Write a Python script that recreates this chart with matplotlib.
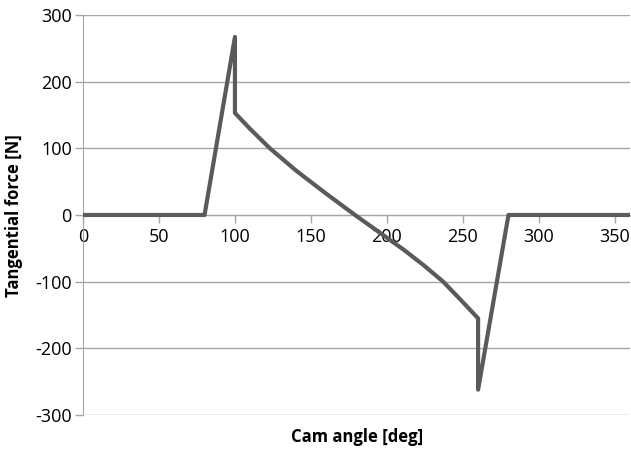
import matplotlib.pyplot as plt

# cam angle [deg] and tangential force [N]
angle = [0, 80, 100, 100, 110, 123, 140, 160, 179, 195, 211, 224, 237, 248,
         260, 260, 280, 360]
force = [0, 0, 267, 153, 129, 100, 67, 32, 0, -26, -52, -75, -100, -126,
         -155, -262, 0, 0]

xticks = [0, 50, 100, 150, 200, 250, 300, 350]
yticks = [-300, -200, -100, 0, 100, 200, 300]

plt.rcParams['font.family'] = ['Open Sans', 'DejaVu Sans']
plt.rcParams['axes.unicode_minus'] = False

fig = plt.figure(figsize=(6.31, 4.49), dpi=100)
ax = fig.add_axes([0.1315, 0.0757, 0.867, 0.891])

ax.plot(angle, force, color='#5a5a5a', linewidth=3, zorder=3,
        solid_joinstyle='round')

ax.set_xlim(0, 360)
ax.set_ylim(-300, 300)
ax.set_xticks(xticks)
ax.set_yticks(yticks)
ax.grid(axis='y', color='#a6a6a6', linewidth=1)
ax.set_axisbelow(True)

ax.spines['top'].set_visible(False)
ax.spines['right'].set_visible(False)
ax.spines['bottom'].set_position(('data', 0))
ax.spines['bottom'].set_color('#a6a6a6')
ax.spines['left'].set_color('#a6a6a6')
ax.tick_params(axis='both', colors='#a6a6a6', labelcolor='black', labelsize=13,
               length=6, width=1, direction='out')
ax.tick_params(axis='y', pad=2)

fig.text(0.566, 0.027, 'Cam angle [deg]', ha='center', va='center',
         fontsize=12, fontweight='bold')
fig.text(0.022, 0.52, 'Tangential force [N]', ha='center', va='center',
         rotation=90, fontsize=12, fontweight='bold')

fig.savefig('out.png', dpi=100)
